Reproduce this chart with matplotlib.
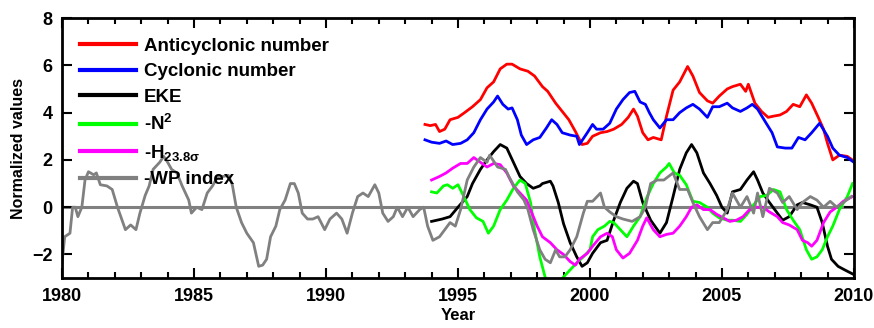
import numpy as np
import matplotlib
matplotlib.use("Agg")
import matplotlib.pyplot as plt
from matplotlib.ticker import MultipleLocator

plt.rcParams['font.family'] = ['Liberation Sans', 'DejaVu Sans']
plt.rcParams['font.weight'] = 'bold'
plt.rcParams['mathtext.fontset'] = 'custom'
plt.rcParams['mathtext.rm'] = 'Liberation Sans:bold'
plt.rcParams['mathtext.it'] = 'Liberation Sans:bold:italic'
plt.rcParams['mathtext.bf'] = 'Liberation Sans:bold'
plt.rcParams['mathtext.default'] = 'rm'

# (year, normalized value)
anticyclonic = [
    (1993.75, 3.5), (1993.95, 3.45), (1994.15, 3.5), (1994.3, 3.2), (1994.5, 3.3),
    (1994.7, 3.7), (1995.0, 3.8), (1995.25, 4.0), (1995.55, 4.25), (1995.85, 4.55),
    (1996.1, 5.05), (1996.35, 5.3), (1996.6, 5.85), (1996.85, 6.05), (1997.05, 6.05),
    (1997.35, 5.85), (1997.65, 5.75), (1997.9, 5.55), (1998.2, 5.1), (1998.4, 4.9),
    (1998.7, 4.4), (1998.95, 4.05), (1999.2, 3.7), (1999.45, 3.2), (1999.7, 2.65),
    (1999.9, 2.7), (2000.1, 3.0), (2000.4, 3.15), (2000.65, 3.2), (2000.9, 3.3),
    (2001.2, 3.5), (2001.45, 3.8), (2001.65, 4.15), (2001.8, 3.85), (2002.0, 3.15),
    (2002.2, 2.85), (2002.4, 2.95), (2002.7, 2.85), (2002.9, 3.85), (2003.15, 4.95),
    (2003.4, 5.3), (2003.7, 5.95), (2003.9, 5.55), (2004.15, 4.85), (2004.45, 4.5),
    (2004.65, 4.4), (2004.9, 4.7), (2005.2, 5.0), (2005.4, 5.1), (2005.7, 5.2),
    (2005.9, 4.9), (2006.0, 5.2), (2006.25, 4.4), (2006.5, 4.05), (2006.75, 3.8),
    (2006.95, 3.85), (2007.2, 3.9), (2007.45, 4.05), (2007.7, 4.35), (2007.95, 4.25),
    (2008.2, 4.75), (2008.4, 4.4), (2008.65, 3.8), (2008.85, 3.3), (2009.0, 2.7),
    (2009.2, 2.0), (2009.45, 2.2), (2009.75, 2.15), (2010.0, 1.95),
]

cyclonic = [
    (1993.75, 2.85), (1994.0, 2.75), (1994.3, 2.7), (1994.55, 2.8), (1994.8, 2.65),
    (1995.1, 2.7), (1995.35, 2.85), (1995.6, 3.15), (1995.85, 3.7), (1996.1, 4.15),
    (1996.35, 4.45), (1996.5, 4.7), (1996.7, 4.35), (1996.9, 4.15), (1997.05, 4.2),
    (1997.25, 3.7), (1997.4, 3.05), (1997.6, 2.65), (1997.85, 2.85), (1998.1, 2.95),
    (1998.35, 3.35), (1998.55, 3.7), (1998.75, 3.5), (1998.95, 3.15), (1999.25, 3.05),
    (1999.5, 3.0), (1999.6, 2.65), (1999.9, 3.15), (2000.1, 3.5), (2000.25, 3.3),
    (2000.5, 3.3), (2000.75, 3.55), (2001.0, 4.15), (2001.25, 4.55), (2001.5, 4.85),
    (2001.7, 4.9), (2001.9, 4.45), (2002.1, 4.35), (2002.25, 4.0), (2002.4, 3.7),
    (2002.65, 3.35), (2002.9, 3.7), (2003.15, 3.7), (2003.4, 4.0), (2003.65, 4.2),
    (2003.9, 4.35), (2004.15, 4.15), (2004.45, 3.8), (2004.65, 4.25), (2004.9, 4.25),
    (2005.2, 4.4), (2005.4, 4.2), (2005.7, 4.05), (2005.95, 4.2), (2006.15, 4.35),
    (2006.35, 4.15), (2006.65, 3.6), (2006.9, 3.15), (2007.1, 2.55), (2007.4, 2.5),
    (2007.65, 2.5), (2007.9, 2.95), (2008.15, 2.85), (2008.4, 3.15), (2008.7, 3.55),
    (2009.0, 3.0), (2009.2, 2.5), (2009.45, 2.2), (2009.75, 2.1), (2010.0, 1.9),
]

eke = [
    (1994.0, -0.6), (1994.4, -0.5), (1994.7, -0.4), (1995.0, 0.0), (1995.35, 0.45),
    (1995.55, 1.0), (1995.85, 1.6), (1996.1, 2.0), (1996.35, 2.35), (1996.6, 2.65),
    (1996.85, 2.5), (1997.1, 1.9), (1997.35, 1.3), (1997.6, 1.0), (1997.85, 0.8),
    (1998.1, 0.9), (1998.2, 1.0), (1998.5, 1.1), (1998.6, 0.9), (1998.8, 0.2),
    (1999.0, -0.7), (1999.25, -1.5), (1999.5, -2.1), (1999.7, -2.5), (1999.9, -2.35),
    (2000.1, -1.95), (2000.4, -1.5), (2000.65, -1.4), (2000.9, -0.55), (2001.15, 0.2),
    (2001.4, 0.8), (2001.65, 1.1), (2001.8, 1.0), (2002.0, 0.2), (2002.3, -0.55),
    (2002.65, -1.1), (2002.9, -0.65), (2003.15, 0.45), (2003.4, 1.6), (2003.65, 2.3),
    (2003.85, 2.65), (2004.05, 2.3), (2004.3, 1.45), (2004.55, 1.0), (2004.8, 0.5),
    (2005.0, 0.0), (2005.2, -0.25), (2005.4, 0.65), (2005.7, 0.75), (2005.95, 1.15),
    (2006.2, 1.5), (2006.35, 1.15), (2006.55, 0.6), (2006.8, 0.2), (2007.1, -0.25),
    (2007.3, -0.55), (2007.55, -0.4), (2007.85, 0.1), (2008.05, 0.2), (2008.35, 0.1),
    (2008.6, 0.0), (2008.8, -0.65), (2009.0, -1.65), (2009.15, -2.2), (2009.4, -2.5),
    (2009.65, -2.65), (2010.0, -2.85),
]

n2 = [
    (1994.0, 0.65), (1994.2, 0.6), (1994.45, 0.9), (1994.6, 0.95), (1994.8, 0.8),
    (1995.0, 0.95), (1995.2, 0.5), (1995.45, -0.1), (1995.7, -0.45), (1995.95, -0.6),
    (1996.15, -1.1), (1996.35, -0.8), (1996.6, -0.1), (1996.85, 0.3), (1997.1, 0.8),
    (1997.35, 1.15), (1997.55, 1.0), (1997.75, 0.2), (1997.9, -0.95), (1998.1, -2.1),
    (1998.3, -2.95), (1998.6, -3.6), (1999.0, -2.95), (1999.25, -2.65), (1999.5, -2.35),
    (1999.75, -2.1), (2000.0, -1.8), (2000.1, -1.25), (2000.3, -0.95), (2000.55, -0.8),
    (2000.75, -0.6), (2000.9, -0.65), (2001.15, -0.95), (2001.4, -1.25), (2001.65, -0.8),
    (2001.9, -0.4), (2002.15, 0.4), (2002.4, 1.0), (2002.65, 1.45), (2002.9, 1.7),
    (2003.0, 1.85), (2003.2, 1.45), (2003.4, 1.35), (2003.65, 0.95), (2003.9, 0.25),
    (2004.15, 0.2), (2004.45, 0.0), (2004.65, -0.25), (2004.9, -0.45), (2005.2, -0.55),
    (2005.4, -0.55), (2005.7, -0.6), (2005.95, -0.3), (2006.2, 0.1), (2006.45, 0.45),
    (2006.7, 0.5), (2006.95, 0.75), (2007.2, 0.65), (2007.45, -0.1), (2007.7, -0.55),
    (2007.95, -0.95), (2008.2, -1.8), (2008.4, -2.2), (2008.6, -2.1), (2008.8, -1.8),
    (2009.0, -1.25), (2009.2, -0.8), (2009.45, -0.1), (2009.75, 0.45), (2009.95, 1.0),
]

h238 = [
    (1994.0, 1.15), (1994.3, 1.3), (1994.55, 1.45), (1994.8, 1.65), (1995.1, 1.85),
    (1995.35, 1.85), (1995.6, 2.1), (1995.85, 1.9), (1996.1, 1.7), (1996.35, 1.85),
    (1996.6, 1.8), (1996.85, 1.45), (1997.1, 0.9), (1997.35, 0.6), (1997.6, 0.3),
    (1997.8, -0.25), (1998.0, -0.8), (1998.2, -1.25), (1998.5, -1.5), (1998.75, -1.8),
    (1999.0, -2.0), (1999.25, -2.3), (1999.45, -2.45), (1999.6, -2.2), (1999.9, -1.95),
    (2000.1, -1.65), (2000.4, -1.25), (2000.65, -1.1), (2000.85, -1.25), (2001.0, -1.8),
    (2001.25, -2.15), (2001.5, -1.95), (2001.8, -1.4), (2002.0, -0.8), (2002.15, -0.45),
    (2002.4, -0.95), (2002.65, -1.25), (2002.9, -1.15), (2003.15, -1.1), (2003.4, -0.8),
    (2003.65, -0.4), (2003.85, 0.0), (2004.05, 0.1), (2004.3, -0.1), (2004.55, -0.1),
    (2004.8, -0.3), (2005.05, -0.45), (2005.3, -0.6), (2005.55, -0.55), (2005.8, -0.4),
    (2006.05, -0.1), (2006.3, 0.0), (2006.55, 0.0), (2006.8, -0.2), (2007.1, -0.4),
    (2007.3, -0.65), (2007.55, -0.75), (2007.85, -0.95), (2008.05, -1.4), (2008.25, -1.5),
    (2008.4, -1.65), (2008.6, -1.4), (2008.85, -0.65), (2009.1, -0.2), (2009.35, 0.0),
    (2009.6, 0.25), (2009.95, 0.45),
]

wp_index = [
    (1980.0, -2.35), (1980.1, -1.25), (1980.3, -1.1), (1980.4, 0.0), (1980.5, 0.0),
    (1980.6, -0.4), (1980.75, 0.0), (1980.87, 1.15), (1981.0, 1.5), (1981.2, 1.37),
    (1981.3, 1.45), (1981.45, 0.95), (1981.7, 0.9), (1981.9, 0.75), (1982.1, 0.0),
    (1982.4, -0.95), (1982.6, -0.75), (1982.8, -0.95), (1982.95, -0.25), (1983.15, 0.5),
    (1983.3, 0.9), (1983.45, 1.6), (1983.7, 1.9), (1983.85, 2.15), (1984.0, 1.9),
    (1984.15, 1.6), (1984.35, 1.45), (1984.55, 0.9), (1984.8, 0.3), (1984.9, -0.25),
    (1985.1, 0.0), (1985.3, -0.1), (1985.5, 0.6), (1985.7, 0.9), (1985.9, 1.3),
    (1986.1, 1.3), (1986.3, 1.35), (1986.45, 0.95), (1986.6, 0.0), (1986.8, -0.65),
    (1987.0, -1.1), (1987.25, -1.5), (1987.45, -2.5), (1987.6, -2.45), (1987.75, -2.2),
    (1987.9, -1.25), (1988.1, -0.8), (1988.25, -0.1), (1988.45, 0.3), (1988.65, 1.0),
    (1988.8, 1.0), (1988.95, 0.6), (1989.1, -0.25), (1989.3, -0.5), (1989.5, -0.5),
    (1989.7, -0.4), (1989.95, -0.95), (1990.15, -0.5), (1990.4, -0.25), (1990.6, -0.5),
    (1990.8, -1.1), (1991.0, -0.25), (1991.2, 0.45), (1991.4, 0.6), (1991.6, 0.45),
    (1991.85, 0.95), (1992.0, 0.6), (1992.15, -0.25), (1992.35, -0.6), (1992.55, -0.4),
    (1992.7, 0.0), (1992.9, -0.4), (1993.1, 0.0), (1993.3, -0.4), (1993.55, -0.1),
    (1993.7, 0.0), (1993.85, -0.8), (1994.05, -1.4), (1994.3, -1.25), (1994.7, -0.65),
    (1994.9, -0.8), (1995.1, -0.1), (1995.35, 1.15), (1995.6, 1.7), (1995.85, 2.1),
    (1996.1, 1.9), (1996.2, 2.2), (1996.5, 1.7), (1996.8, 1.6), (1996.95, 1.25),
    (1997.25, 0.65), (1997.5, 0.3), (1997.65, -0.1), (1997.85, -0.95), (1998.1, -1.8),
    (1998.3, -2.2), (1998.5, -2.35), (1998.7, -1.8), (1998.85, -2.1), (1999.05, -2.1),
    (1999.25, -1.8), (1999.5, -1.25), (1999.75, -0.25), (1999.9, 0.25), (2000.1, 0.25),
    (2000.4, 0.6), (2000.55, 0.0), (2000.75, -0.2), (2001.0, -0.4), (2001.25, -0.5),
    (2001.6, -0.6), (2001.9, -0.4), (2002.1, 0.0), (2002.3, 1.0), (2002.55, 1.15),
    (2002.8, 1.15), (2003.15, 1.45), (2003.4, 0.75), (2003.7, 0.75), (2003.9, 0.2),
    (2004.15, -0.4), (2004.45, -0.95), (2004.65, -0.65), (2004.9, -0.65), (2005.2, -0.1),
    (2005.4, 0.6), (2005.7, 0.0), (2005.95, 0.45), (2006.2, -0.25), (2006.35, 0.6),
    (2006.55, -0.4), (2006.8, 0.8), (2007.1, 0.6), (2007.3, 0.2), (2007.55, 0.45),
    (2007.85, -0.1), (2008.05, 0.2), (2008.35, 0.45), (2008.6, 0.3), (2008.85, 0.0),
    (2009.1, 0.25), (2009.35, 0.0), (2009.6, 0.2), (2009.9, 0.45),
]

series = [
    (anticyclonic, '#ff0000', 'Anticyclonic number'),
    (cyclonic, '#0000ff', 'Cyclonic number'),
    (eke, '#000000', 'EKE'),
    (n2, '#00ff00', r'-N$^2$'),
    (h238, '#ff00ff', r'-H$_{23.8\sigma}$'),
    (wp_index, '#808080', '-WP index'),
]


def main():
    fig = plt.figure(figsize=(8.74, 3.28), dpi=100)
    ax = fig.add_axes([0.071, 0.152, 0.906, 0.793])

    ax.axhline(0, color='#808080', lw=2.2, zorder=1)
    for pts, color, label in series:
        x, y = np.array(pts).T
        ax.plot(x, y, color=color, lw=2.0, label=label, zorder=2)

    ax.set_xlim(1980, 2010)
    ax.set_ylim(-3, 8)
    ax.xaxis.set_major_locator(MultipleLocator(5))
    ax.xaxis.set_minor_locator(MultipleLocator(1))
    ax.yaxis.set_major_locator(MultipleLocator(2))
    ax.tick_params(which='both', direction='in', top=True, right=True, width=1.5)
    ax.tick_params(which='major', length=7, labelsize=13, pad=7)
    ax.tick_params(which='minor', length=4)
    for s in ax.spines.values():
        s.set_linewidth(2)

    ax.set_xlabel('Year', fontsize=12, fontweight='bold', labelpad=2)
    ax.set_ylabel('Normalized values', fontsize=11.5, fontweight='bold', labelpad=4)

    # legend without frame, long handles
    leg = ax.legend(loc='upper left', bbox_to_anchor=(0.006, 0.975), frameon=False,
                    fontsize=13.5, handlelength=3.0, handletextpad=0.4,
                    labelspacing=0.45, borderaxespad=0.4, borderpad=0.3)
    for line in leg.get_lines():
        line.set_linewidth(3)

    fig.savefig('out.png', dpi=100)


if __name__ == "__main__":
    main()
